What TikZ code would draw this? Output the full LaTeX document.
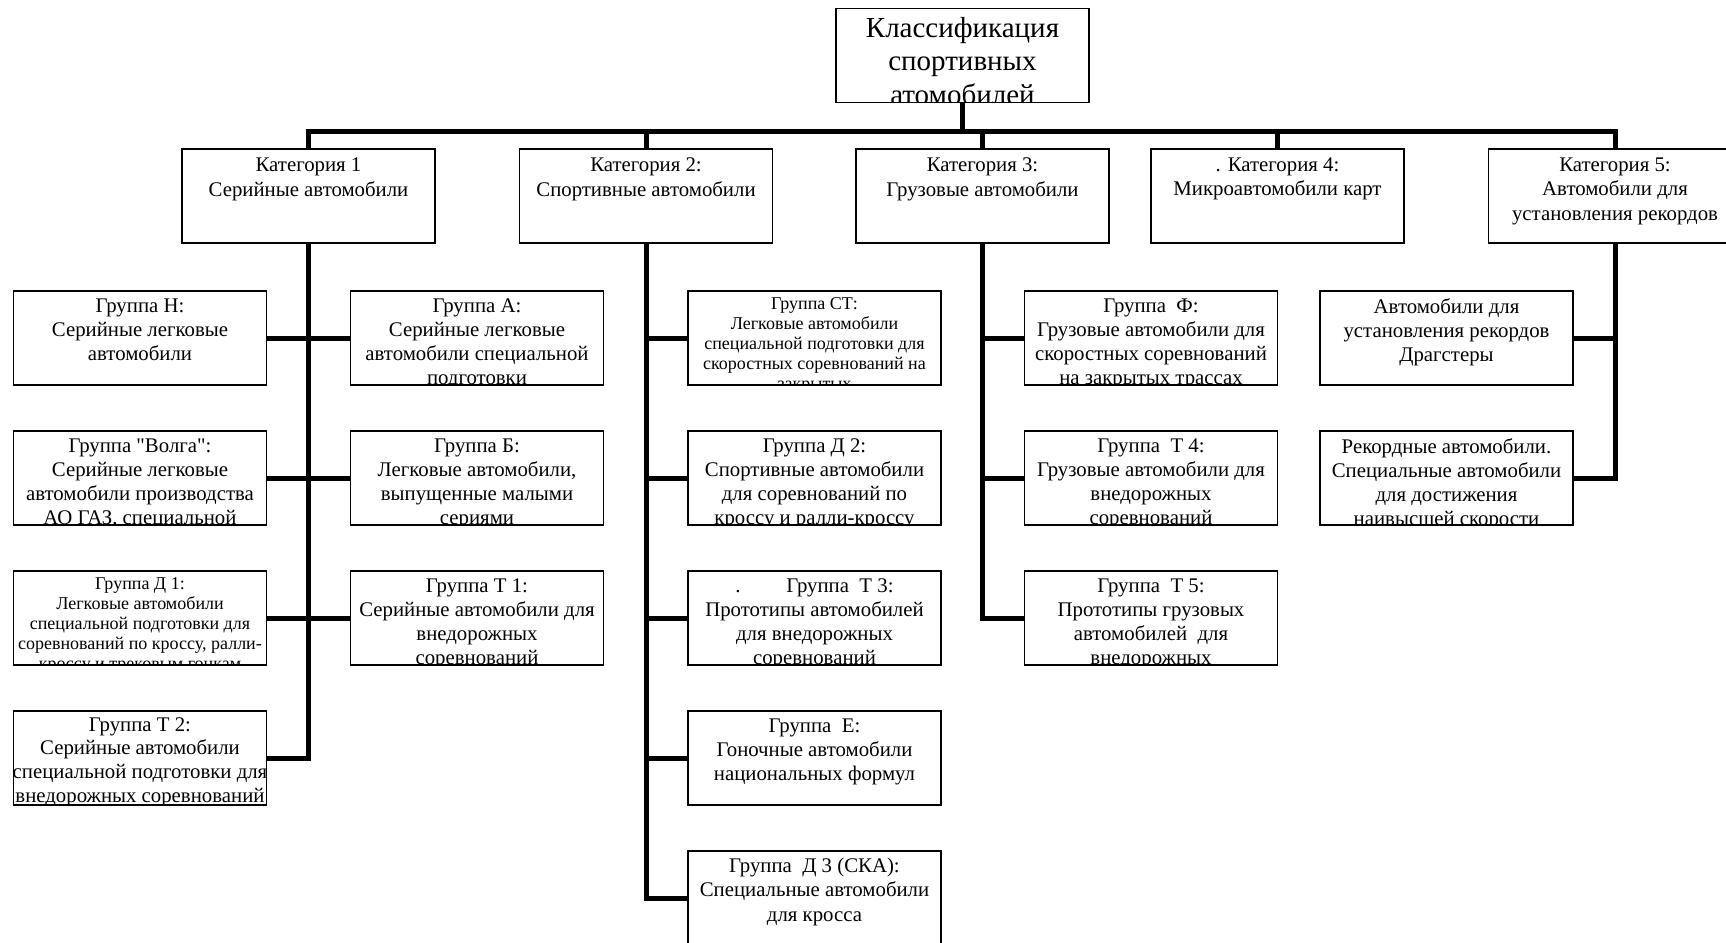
\documentclass[tikz,border=0pt]{standalone}
\usepackage{fontspec}
\setmainfont{Liberation Serif}[Ligatures=TeXOff]
\usetikzlibrary{positioning,calc}
\newcommand{\grpfont}{\fontsize{10.4}{12.05}\selectfont}
\newcommand{\tightgrpfont}{\fontsize{10.4}{11.8}\selectfont}
\newcommand{\smallgrpfont}{\fontsize{9}{9.9}\selectfont}
\newcommand{\headfont}{\fontsize{14.5}{16.9}\selectfont}
\tikzset{
    every node/.style={font=\grpfont},
    rect/.style={draw, line width=0.9pt, minimum width=126.5pt, minimum height=47pt, inner sep=0pt, outer sep=0pt},
    % text is clipped by the box border
    clipped/.style n args={3}{path picture={\node[draw=none, minimum width=0pt, minimum height=0pt, anchor=north, align=center, inner sep=0pt, font=#1] at ([yshift=-#2]path picture bounding box.north) {#3};}},
    head/.style={rect, clipped={\headfont}{4.2pt}{#1}},
    cat/.style={rect, clipped={\grpfont}{4.6pt}{#1}},
    grp/.style={rect, clipped={\grpfont}{3.6pt}{#1}},
    grptight/.style={rect, clipped={\tightgrpfont}{3.2pt}{#1}},
    grpsmall/.style={rect, clipped={\smallgrpfont}{3.4pt}{#1}},
    branch/.style={line width=2.5pt},
}

\begin{document}
\begin{tikzpicture}[x=0.5pt, y=-0.5pt, node distance=23pt and 0pt]
\def\colx{84.25pt}
\def\firstrow{24.1pt}
\useasboundingbox (0,0) rectangle (1726,943);
% top
\node[head={Классификация\\спортивных\\атомобилей}] (head) at (962.5,55.5) {};
\coordinate (bus) at (0,131);
% categories
\node[cat={Категория 1\\Серийные автомобили}] (cat1) at (308.5,196) {};
\node[cat={Категория 2:\\Спортивные автомобили}] (cat2) at (646,196) {};
\node[cat={Категория 3:\\Грузовые автомобили}] (cat3) at (982.5,196) {};
\node[cat={. Категория 4:\\Микроавтомобили карт}] (cat4) at (1277.5,196) {};
\node[cat={Категория 5:\\Автомобили для\\установления рекордов}] (cat5) at (1615,196) {};
% category 1
\node[grp={Группа Н:\\Серийные легковые\\автомобили}, below=\firstrow of cat1, xshift=-\colx] (gN) {};
\node[grp={Группа "Волга":\\Серийные легковые\\автомобили производства\\АО ГАЗ, специальной}, below=of gN] (gVolga) {};
\node[grpsmall={Группа Д 1:\\Легковые автомобили\\специальной подготовки для\\соревнований по кроссу, ралли-\\кроссу и трековым гонкам}, below=of gVolga] (gD1) {};
\node[grptight={Группа Т 2:\\Серийные автомобили\\специальной подготовки для\\внедорожных соревнований}, below=of gD1] (gT2) {};
\node[grp={Группа А:\\Серийные легковые\\автомобили специальной\\подготовки}, below=\firstrow of cat1, xshift=\colx] (gA) {};
\node[grp={Группа Б:\\Легковые автомобили,\\выпущенные малыми\\сериями}, below=of gA] (gB) {};
\node[grp={Группа Т 1:\\Серийные автомобили для\\внедорожных\\соревнований}, below=of gB] (gT1) {};
% category 2
\node[grpsmall={Группа СТ:\\Легковые автомобили\\специальной подготовки для\\скоростных соревнований на\\закрытых}, below=\firstrow of cat2, xshift=\colx] (gST) {};
\node[grp={Группа Д 2:\\Спортивные автомобили\\для соревнований по\\кроссу и ралли-кроссу}, below=of gST] (gD2) {};
\node[grp={.\hspace{2.2em}Группа~~Т 3:\\Прототипы автомобилей\\для внедорожных\\соревнований}, below=of gD2] (gT3) {};
\node[grp={Группа~~Е:\\Гоночные автомобили\\национальных формул}, below=of gT3] (gE) {};
\node[grp={Группа~~Д 3 (СКА):\\Специальные автомобили\\для кросса}, below=of gE] (gD3) {};
% category 3
\node[grp={Группа~~Ф:\\Грузовые автомобили для\\скоростных соревнований\\на закрытых трассах}, below=\firstrow of cat3, xshift=\colx] (gF) {};
\node[grp={Группа~~Т 4:\\Грузовые автомобили для\\внедорожных\\соревнований}, below=of gF] (gT4) {};
\node[grp={Группа~~Т 5:\\Прототипы грузовых\\автомобилей~~для\\внедорожных}, below=of gT4] (gT5) {};
% category 5
\node[grp={Автомобили для\\установления рекордов\\Драгстеры}, below=\firstrow of cat5, xshift=-\colx] (gDrag) {};
\node[grp={Рекордные автомобили.\\Специальные автомобили\\для достижения\\наивысшей скорости}, below=of gDrag] (gRec) {};

% connectors
\draw[branch] (head) -- (head |- bus);
\draw[branch] (cat1) -- (cat1 |- bus) -- (cat5 |- bus) -- (cat5);
\foreach \c in {cat2,cat3,cat4}
  \draw[branch] (\c) -- (\c |- bus);
\draw[branch] (cat1) -- (cat1 |- gT2) -- (gT2);
\draw[branch] (gN) -- (gA);
\draw[branch] (gVolga) -- (gB);
\draw[branch] (gD1) -- (gT1);
\draw[branch] (cat2) -- (cat2 |- gD3) -- (gD3);
\foreach \g in {gST,gD2,gT3,gE}
  \draw[branch] (cat2 |- \g) -- (\g);
\draw[branch] (cat3) -- (cat3 |- gT5) -- (gT5);
\foreach \g in {gF,gT4}
  \draw[branch] (cat3 |- \g) -- (\g);
\draw[branch] (cat5) -- (cat5 |- gRec) -- (gRec);
\draw[branch] (cat5 |- gDrag) -- (gDrag);
\end{tikzpicture}
\end{document}
